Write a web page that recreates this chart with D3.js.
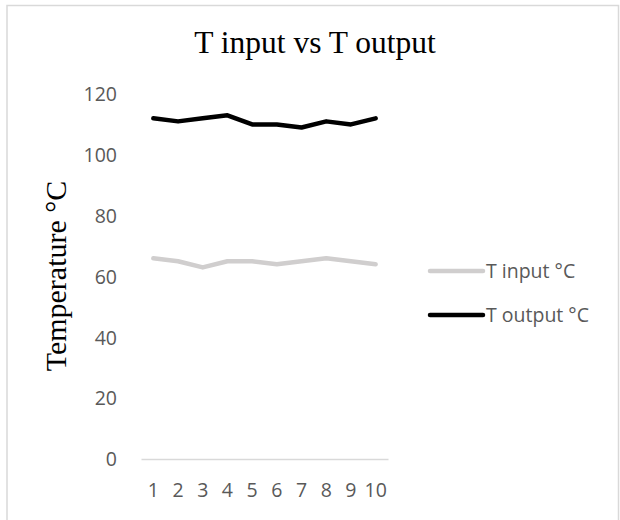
<!DOCTYPE html>
<html>
<head>
<meta charset="utf-8">
<script src="https://cdn.jsdelivr.net/npm/d3@7"></script>
<style>
  html, body { margin: 0; padding: 0; background: #fff; }
  svg { display: block; }
</style>
</head>
<body>
<svg id="chart" width="620" height="520"></svg>
<script>
const categories = ["1","2","3","4","5","6","7","8","9","10"];
const tInput  = [66, 65, 63, 65, 65, 64, 65, 66, 65, 64];
const tOutput = [112, 111, 112, 113, 110, 110, 109, 111, 110, 112];
const yTicks = [0, 20, 40, 60, 80, 100, 120];
const seriesNames = ["T input °C", "T output °C"];
const seriesColors = ["#d0cece", "#000000"];

const svg = d3.select("#chart");
const tickFont = "'Open Sans', 'Noto Sans', sans-serif";
const serif = "'Liberation Serif', 'Times New Roman', serif";

// frame
svg.append("path")
  .attr("d", "M7,525 L7,5.5 L618.5,5.5 L618.5,525")
  .attr("fill", "none").attr("stroke", "#d9d9d9").attr("stroke-width", 1.5);

const x = d3.scaleBand().domain(categories).range([141, 388]);
const y = d3.scaleLinear().domain([0, 120]).range([459, 94]);

// title
svg.append("text")
  .attr("x", 315).attr("y", 53)
  .attr("text-anchor", "middle")
  .attr("font-family", serif).attr("font-size", 31.5).attr("fill", "#000")
  .text("T input vs T output");

// y axis title
svg.append("text")
  .attr("transform", "translate(66,276) rotate(-90)")
  .attr("text-anchor", "middle")
  .attr("font-family", serif).attr("font-size", 30).attr("fill", "#000")
  .text("Temperature °C");

// y axis
const yAxis = svg.append("g")
  .attr("transform", "translate(141,0)")
  .call(d3.axisLeft(y).tickValues(yTicks).tickSize(0).tickPadding(24));
yAxis.select(".domain").remove();
yAxis.selectAll("text")
  .attr("font-family", tickFont).attr("font-size", 19.5).attr("fill", "#595959")
  .attr("dy", "0.35em");

// x axis
const xAxis = svg.append("g")
  .attr("transform", "translate(0,459)")
  .call(d3.axisBottom(x).tickSize(0).tickPadding(0));
xAxis.select(".domain")
  .attr("stroke", "#d9d9d9").attr("stroke-width", 1.5);
xAxis.selectAll("text")
  .attr("font-family", tickFont).attr("font-size", 19.5).attr("fill", "#595959")
  .attr("y", 31).attr("dy", "0.35em");

// lines
const line = d3.line()
  .x((d, i) => x(categories[i]) + x.bandwidth() / 2)
  .y(d => y(d));

[tInput, tOutput].forEach((s, k) => {
  svg.append("path")
    .datum(s)
    .attr("d", line)
    .attr("fill", "none")
    .attr("stroke", seriesColors[k])
    .attr("stroke-width", 4.5)
    .attr("stroke-linecap", "round")
    .attr("stroke-linejoin", "round");
});

// legend
const legendY = [271, 315];
seriesNames.forEach((name, k) => {
  svg.append("line")
    .attr("x1", 430).attr("x2", 483)
    .attr("y1", legendY[k]).attr("y2", legendY[k])
    .attr("stroke", seriesColors[k]).attr("stroke-width", 4.5)
    .attr("stroke-linecap", "round");
  svg.append("text")
    .attr("x", 486).attr("y", legendY[k]).attr("dy", "0.35em")
    .attr("font-family", tickFont).attr("font-size", 19.5).attr("fill", "#595959")
    .text(name);
});
</script>
</body>
</html>
